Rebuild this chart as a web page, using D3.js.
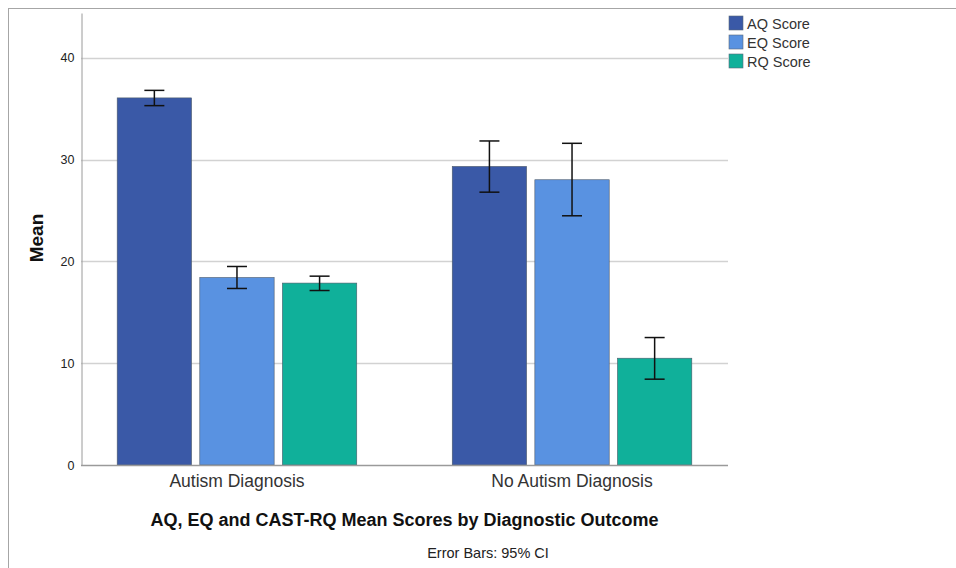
<!DOCTYPE html>
<html>
<head>
<meta charset="utf-8">
<script src="https://cdn.jsdelivr.net/npm/d3@7"></script>
<style>
  body { margin: 0; background: #fff; }
  text { font-family: "Liberation Sans", Arial, sans-serif; }
</style>
</head>
<body>
<svg id="chart" width="956" height="568"></svg>
<script>
// data
var groups = ["Autism Diagnosis", "No Autism Diagnosis"];
var series = ["AQ Score", "EQ Score", "RQ Score"];
var colors = ["#3a59a7", "#5992e1", "#10b09a"];
var means = [
  [36.06, 18.42, 17.87],
  [29.33, 28.02, 10.49]
];
var ciLow = [
  [35.3, 17.34, 17.14],
  [26.8, 24.48, 8.43]
];
var ciHigh = [
  [36.8, 19.5, 18.55],
  [31.83, 31.6, 12.52]
];
var yTicks = [0, 10, 20, 30, 40];

var svg = d3.select("#chart");

// outer frame (top + left edge visible)
svg.append("line").attr("x1", 8).attr("x2", 956).attr("y1", 8.5).attr("y2", 8.5)
  .style("stroke", "#a6a6a6").style("stroke-width", 1);
svg.append("line").attr("x1", 8.5).attr("x2", 8.5).attr("y1", 8).attr("y2", 568)
  .style("stroke", "#a6a6a6").style("stroke-width", 1);

var pLeft = 81, pRight = 728, pTop = 13, pBottom = 465;

var y = d3.scaleLinear().domain([0, 44.4]).range([pBottom, pTop]);
var x0 = d3.scaleBand().domain(groups).range([pLeft, pRight])
  .paddingInner(0.285).paddingOuter(0.108);
var x1 = d3.scaleBand().domain(series).range([0, x0.bandwidth()]).paddingInner(0.1);

// gridlines
svg.append("g").selectAll("line")
  .data(yTicks.filter(function (d) { return d > 0; }))
  .enter().append("line")
  .attr("x1", pLeft).attr("x2", pRight)
  .attr("y1", function (d) { return Math.round(y(d)) + 0.5; })
  .attr("y2", function (d) { return Math.round(y(d)) + 0.5; })
  .style("stroke", "#d2d2d2").style("stroke-width", 1.5);

// y axis
var yAxis = svg.append("g").attr("transform", "translate(" + (pLeft + 0.5) + ",0)")
  .call(d3.axisLeft(y).tickValues(yTicks).tickSize(0).tickPadding(7));
yAxis.select(".domain").style("stroke", "#9a9a9a");
yAxis.selectAll("text").style("font-size", "12.5px").style("fill", "#222");

svg.append("text")
  .attr("transform", "translate(43,238) rotate(-90)")
  .attr("text-anchor", "middle")
  .style("font-size", "19px").style("font-weight", "bold").style("fill", "#111")
  .text("Mean");

// bars
var g = svg.append("g").selectAll("g")
  .data(groups).enter().append("g")
  .attr("transform", function (d) { return "translate(" + x0(d) + ",0)"; });

g.selectAll("rect")
  .data(function (d, i) { return series.map(function (s, j) { return { s: s, j: j, v: means[i][j] }; }); })
  .enter().append("rect")
  .attr("x", function (d) { return x1(d.s); })
  .attr("y", function (d) { return y(d.v); })
  .attr("width", x1.bandwidth())
  .attr("height", function (d) { return y(0) - y(d.v); })
  .style("fill", function (d) { return colors[d.j]; })
  .style("stroke", "#4d5a6a").style("stroke-width", 0.6);

// error bars
var eb = g.selectAll("g.err")
  .data(function (d, i) {
    return series.map(function (s, j) { return { s: s, lo: ciLow[i][j], hi: ciHigh[i][j] }; });
  })
  .enter().append("g").attr("class", "err")
  .attr("transform", function (d) { return "translate(" + (x1(d.s) + x1.bandwidth() / 2) + ",0)"; });
eb.append("line").attr("x1", 0).attr("x2", 0)
  .attr("y1", function (d) { return y(d.lo); }).attr("y2", function (d) { return y(d.hi); });
eb.append("line").attr("x1", -10).attr("x2", 10)
  .attr("y1", function (d) { return y(d.lo); }).attr("y2", function (d) { return y(d.lo); });
eb.append("line").attr("x1", -10).attr("x2", 10)
  .attr("y1", function (d) { return y(d.hi); }).attr("y2", function (d) { return y(d.hi); });
eb.selectAll("line").style("stroke", "#111").style("stroke-width", 1.5);

// x axis
var xAxis = svg.append("g").attr("transform", "translate(0," + (pBottom + 0.5) + ")")
  .call(d3.axisBottom(x0).tickSize(0).tickPadding(9));
xAxis.select(".domain").attr("d", "M" + pLeft + ",0H" + pRight).style("stroke", "#9a9a9a").style("stroke-width", 1.5);
xAxis.selectAll("text").style("font-size", "17.5px").style("fill", "#333");

// titles
svg.append("text").attr("x", (pLeft + pRight) / 2).attr("y", 526)
  .attr("text-anchor", "middle")
  .style("font-size", "18px").style("font-weight", "bold").style("fill", "#111")
  .text("AQ, EQ and CAST-RQ Mean Scores by Diagnostic Outcome");
svg.append("text").attr("x", 488).attr("y", 558)
  .attr("text-anchor", "middle")
  .style("font-size", "14.5px").style("fill", "#222")
  .text("Error Bars: 95% CI");

// legend
var lg = svg.append("g").selectAll("g").data(series).enter().append("g")
  .attr("transform", function (d, i) { return "translate(729," + (16 + i * 19) + ")"; });
lg.append("rect").attr("width", 14).attr("height", 14)
  .style("fill", function (d, i) { return colors[i]; })
  .style("stroke", "#5a6a7a").style("stroke-width", 0.6);
lg.append("text").attr("x", 18).attr("y", 12.5)
  .style("font-size", "14.5px").style("fill", "#333")
  .text(function (d) { return d; });
</script>
</body>
</html>
